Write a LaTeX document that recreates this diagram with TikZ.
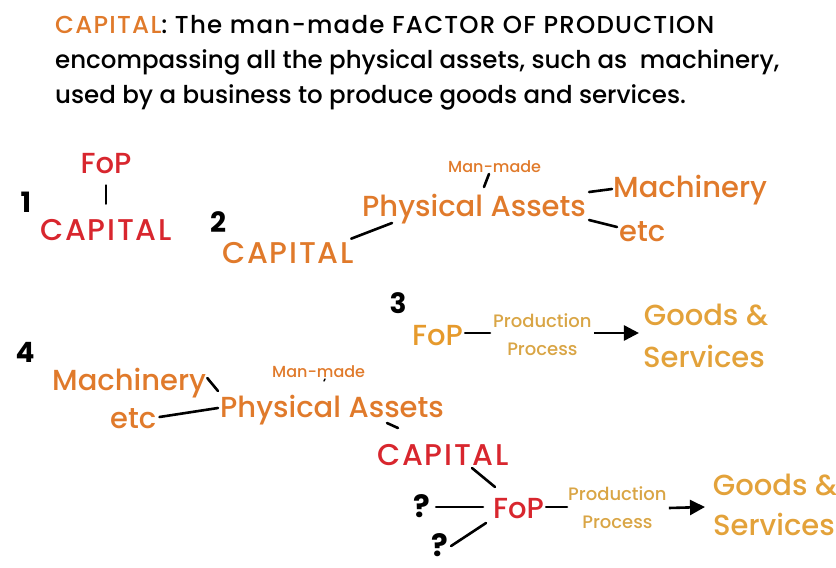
\documentclass[tikz,border=0pt]{standalone}
\usepackage{fontspec}
\setmainfont{Poppins}[UprightFont=* Medium, BoldFont=* Bold]
\usetikzlibrary{arrows.meta, calc}

\definecolor{capred}{HTML}{D8262E}
\definecolor{caporange}{HTML}{E07A2B}
\definecolor{fopgold}{HTML}{E69A2C}
\definecolor{procgold}{HTML}{D9A545}
\definecolor{goodsgold}{HTML}{E3A23A}

\begin{document}
\begin{tikzpicture}[x=1pt, y=-1pt,
  every node/.style={inner sep=0pt},
  head/.style={font=\fontsize{24.5}{24.5}\selectfont, anchor=base west},
  word/.style={font=\fontsize{29}{29}\selectfont, anchor=base west},
  caps/.style={font=\fontsize{30}{30}\selectfont\addfontfeature{LetterSpace=6}, anchor=base west},
  small/.style={font=\fontsize{16}{16}\selectfont, anchor=base west},
  proc/.style={font=\fontsize{18}{18}\selectfont, anchor=base west, text=procgold},
  num/.style={font=\bfseries\fontsize{28}{28}\selectfont, anchor=base},
  quest/.style={font=\bfseries\fontsize{31}{31}\selectfont, anchor=base west},
  link/.style={line width=2.6pt, line cap=round},
  arr/.style={-{Triangle[length=15pt,width=15pt]}, line width=2.6pt}
]
\useasboundingbox (0,0) rectangle (836,568);

% definition
\node[head, font=\fontsize{24.5}{24.5}\selectfont\addfontfeature{LetterSpace=5}] (def1) at (55,33) {\textcolor{caporange}{CAPITAL}: The man-made FACTOR OF PRODUCTION};
\node[head] (def2) at (55,68) {encompassing all the physical assets, such as\ \ machinery,};
\node[head] (def3) at (55,103) {used by a business to produce goods and services.};

% 1
\node[num] (num1) at (26,212) {1};
\node[word, anchor=base, text=capred] (fop1) at (106,173) {FoP};
\node[caps, text=capred] (cap1) at (40,240) {CAPITAL};
\draw[link, shorten <=12pt, shorten >=15pt] (fop1.south) -- (fop1.south |- cap1.north);

% 2
\node[num] (num2) at (218,232) {2};
\node[caps, text=caporange] (cap2) at (222,263) {CAPITAL};
\node[word, text=caporange] (phys2) at (362,216) {Physical Assets};
\node[small, text=caporange] (made2) at (448,172) {Man-made};
\node[word, text=caporange] (mach2) at (613,197) {Machinery};
\node[word, text=caporange] (etc2) at (619,241) {etc};
\draw[link] ($(cap2.north east)+(-3,-3)$) -- ($(phys2.base west)+(30,7)$);
\draw[link] ($(made2.base west)+(41,2)$) -- ($(made2.base west)+(36,15)$);
\draw[link] ($(phys2.base east)+(3,-24)$) -- ($(mach2.base west)+(-1,-8)$);
\draw[link] ($(phys2.base east)+(3,4)$) -- ($(etc2.base west)+(-2,-14)$);

% 3
\node[num] (num3) at (398,313) {3};
\node[word, text=fopgold] (fop3) at (412,345) {FoP};
\node[proc] (prod3) at (493,327) {Production};
\node[proc, anchor=base] (pros3) at ($(prod3.base)+(0,28)$) {Process};
\node[word, anchor=base, text=goodsgold] (goods3) at (706,325) {Goods \&};
\node[word, anchor=base, text=goodsgold] (serv3) at (704,367) {Services};
\draw[link] ($(fop3.base east)+(2,-12)$) -- ($(prod3.base west)+(-3,6)$);
\draw[arr] ($(prod3.base east)+(2,6)$) -- ($(serv3.base west)+(-4,-34)$);

% 4
\node[num] (num4) at (25,362) {4};
\node[word, text=caporange] (mach4) at (52,390) {Machinery};
\node[small, text=caporange] (made4) at (272,377) {Man-made};
\node[word, text=caporange] (phys4) at (220,417) {Physical Assets};
\node[word, text=caporange] (etc4) at (110,428) {etc};
\node[caps, text=capred] (cap4) at (377,465) {CAPITAL};
\node[word, text=capred] (fop4) at (493,518) {FoP};
\node[quest] (qa4) at (413,517) {?};
\node[quest] (qb4) at (431,556) {?};
\node[proc] (prod4) at (568,500) {Production};
\node[proc, anchor=base] (pros4) at ($(prod4.base)+(0,28)$) {Process};
\node[word, anchor=base, text=goodsgold] (goods4) at (775,495) {Goods \&};
\node[word, anchor=base, text=goodsgold] (serv4) at (774,535) {Services};
\draw[link] ($(mach4.base east)+(1,-12)$) -- ($(phys4.base west)+(-2,-26)$);
\draw[link] ($(etc4.base east)+(3,-11)$) -- ($(phys4.base west)+(-2,-9)$);
\draw[link, line width=1.5pt] ($(made4.base west)+(53,2)$) -- ($(made4.base west)+(52,4)$);
\draw[link] ($(cap4.base west)+(10,-42)$) -- ($(cap4.base west)+(21,-37)$);
\draw[link] ($(cap4.base west)+(95,3)$) -- ($(fop4.base west)+(2,-31)$);
\draw[link] ($(qa4.base east)+(6,-10)$) -- ($(fop4.base west)+(-10,-11)$);
\draw[link] ($(qb4.base east)+(3,-10)$) -- ($(fop4.base west)+(-7,5)$);
\draw[link] ($(fop4.base east)+(2,-11)$) -- ($(prod4.base west)+(-1,7)$);
\draw[arr] ($(prod4.base east)+(2,8)$) -- ($(serv4.base west)+(-8,-28)$);
\end{tikzpicture}
\end{document}
